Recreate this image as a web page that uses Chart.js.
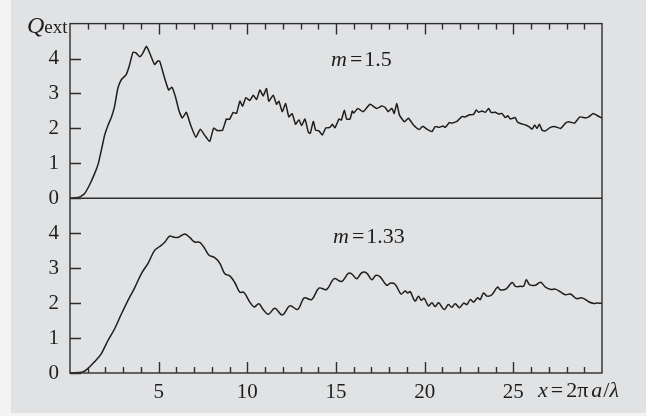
<!DOCTYPE html>
<html>
<head>
<meta charset="utf-8">
<script src="https://cdn.jsdelivr.net/npm/chart.js@4.4.1/dist/chart.umd.min.js"></script>
<style>
  html, body { margin: 0; padding: 0; background: #f3f3f3; }
  #wrap { position: absolute; left: 11px; top: 0; width: 635px; height: 413px; background: #e1e2e4; }
</style>
</head>
<body>
<div id="wrap"><canvas id="c" width="635" height="413"></canvas></div>
<script>
/* Mie extinction efficiency, two refractive indices */

var xTop = [0, 0.5, 0.8, 1.1, 1.4, 1.6, 1.8, 1.95, 2.15, 2.33, 2.5, 2.7, 2.9, 3.17, 3.35, 3.55, 3.72, 3.93, 4.1, 4.31,
  4.5, 4.77, 4.95, 5.06, 5.3, 5.56, 5.75, 5.95, 6.15, 6.34, 6.56, 6.8, 7.1, 7.35, 7.6, 7.88, 8.1, 8.3, 8.6, 8.82,
  9.0, 9.2, 9.39, 9.58, 9.73, 9.92, 10.14, 10.33, 10.52, 10.71, 10.89, 11.08, 11.21, 11.46, 11.65, 11.78, 11.97, 12.16, 12.34, 12.53,
  12.72, 12.91, 13.06, 13.25, 13.44, 13.55, 13.72, 13.85, 14.04, 14.23, 14.42, 14.66, 14.79, 14.94, 15.17, 15.3, 15.47, 15.6, 15.79, 15.92,
  16.0, 16.23, 16.54, 16.92, 17.3, 17.58, 17.77, 17.95, 18.15, 18.28, 18.43, 18.58, 18.86, 19.08, 19.37, 19.69, 19.9, 20.12, 20.41, 20.59,
  20.84, 21.03, 21.16, 21.4, 21.5, 21.82, 22.1, 22.29, 22.53, 22.76, 22.91, 23.04, 23.23, 23.42, 23.61, 23.74, 23.98, 24.17, 24.35, 24.55,
  24.69, 24.83, 25.11, 25.21, 25.4, 25.68, 25.86, 26.06, 26.2, 26.33, 26.47, 26.62, 26.81, 27.09, 27.37, 27.66, 27.94, 28.12, 28.45, 28.75,
  29.07, 29.25, 29.5, 29.73, 30];
var qTop = [0, 0.03, 0.12, 0.38, 0.72, 1.0, 1.45, 1.8, 2.1, 2.31, 2.6, 3.15, 3.4, 3.54, 3.8, 4.18, 4.16, 4.05, 4.15, 4.35,
  4.15, 3.83, 3.93, 3.92, 3.5, 3.1, 3.18, 2.9, 2.5, 2.3, 2.46, 2.1, 1.75, 1.98, 1.8, 1.63, 2.01, 1.94, 1.95, 2.27,
  2.26, 2.46, 2.43, 2.78, 2.64, 2.88, 2.8, 2.95, 2.83, 3.1, 2.93, 3.14, 2.78, 2.95, 2.69, 2.78, 2.48, 2.71, 2.33, 2.42,
  2.12, 2.25, 2.08, 2.27, 1.89, 1.86, 2.2, 1.95, 1.93, 1.81, 2.01, 2.03, 2.12, 2.02, 2.27, 2.24, 2.52, 2.27, 2.27, 2.5,
  2.44, 2.57, 2.48, 2.69, 2.57, 2.64, 2.6, 2.48, 2.58, 2.43, 2.71, 2.38, 2.19, 2.29, 2.1, 1.97, 2.06, 1.98, 1.91, 2.05,
  2.03, 2.07, 2.03, 2.17, 2.15, 2.2, 2.34, 2.33, 2.39, 2.4, 2.53, 2.46, 2.5, 2.46, 2.57, 2.46, 2.46, 2.41, 2.43, 2.31,
  2.36, 2.27, 2.31, 2.2, 2.14, 2.1, 2.06, 1.98, 2.1, 2.0, 2.12, 1.95, 1.93, 2.03, 2.05, 2.0, 2.15, 2.19, 2.15, 2.33,
  2.3, 2.33, 2.43, 2.37, 2.29];

var xBot = [0, 0.72, 1.01, 1.38, 1.76, 2.14, 2.51, 2.89, 3.27, 3.64, 4.02, 4.4, 4.77, 5.06, 5.34, 5.62, 5.81, 6.09, 6.47, 6.75,
  7.03, 7.32, 7.6, 7.84, 8.16, 8.45, 8.73, 9.01, 9.29, 9.58, 9.8, 10.14, 10.38, 10.65, 10.89, 11.18, 11.55, 11.97, 12.4, 12.84,
  13.21, 13.63, 14.04, 14.47, 14.9, 15.32, 15.69, 15.88, 16.17, 16.45, 16.73, 17.02, 17.24, 17.49, 17.86, 18.05, 18.33, 18.67, 18.9, 19.05,
  19.18, 19.46, 19.65, 19.8, 19.97, 20.21, 20.41, 20.6, 20.78, 21.1, 21.34, 21.53, 21.72, 21.97, 22.2, 22.38, 22.57, 22.76, 22.98, 23.13,
  23.32, 23.51, 23.79, 24.11, 24.26, 24.6, 24.93, 25.12, 25.4, 25.59, 25.73, 25.91, 26.24, 26.53, 26.81, 27.13, 27.37, 27.66, 27.94, 28.22,
  28.56, 28.88, 29.25, 29.54, 29.73, 30];
var qBot = [0, 0.03, 0.13, 0.32, 0.55, 0.93, 1.26, 1.68, 2.08, 2.43, 2.84, 3.14, 3.51, 3.62, 3.74, 3.92, 3.89, 3.88, 3.98, 3.88,
  3.75, 3.74, 3.56, 3.37, 3.3, 3.14, 2.84, 2.78, 2.59, 2.31, 2.31, 2.03, 1.89, 1.98, 1.82, 1.68, 1.85, 1.66, 1.92, 1.82,
  2.15, 2.1, 2.43, 2.39, 2.7, 2.62, 2.85, 2.84, 2.7, 2.87, 2.86, 2.67, 2.79, 2.75, 2.51, 2.57, 2.54, 2.26, 2.35, 2.29,
  2.33, 2.06, 2.2, 2.08, 2.14, 1.92, 2.01, 1.9, 2.01, 1.82, 1.96, 1.88, 1.98, 1.87, 2.0, 1.96, 2.1, 2.03, 2.15, 2.1,
  2.29, 2.2, 2.24, 2.46, 2.38, 2.41, 2.59, 2.48, 2.48, 2.49, 2.67, 2.53, 2.51, 2.6, 2.46, 2.39, 2.4, 2.32, 2.24, 2.26,
  2.13, 2.15, 2.04, 1.99, 2.0, 1.99];

var xTicks = [5, 10, 15, 20, 25];
var yTicks = [0, 1, 2, 3, 4];
var labelTop = '1.5';
var labelBot = '1.33';

var ink = '#1e1e1e';
var frame = '#2e2e2e';
var serif = '"Liberation Serif", "DejaVu Serif", serif';

function pts(xs, ys) {
  var out = [];
  for (var i = 0; i < xs.length; i++) out.push({ x: xs[i], y: ys[i] });
  return out;
}

function drawRuns(ctx, x, y, runs) {
  for (var i = 0; i < runs.length; i++) {
    ctx.font = runs[i][1];
    ctx.fillText(runs[i][0], x, y);
    x += ctx.measureText(runs[i][0]).width + (runs[i][2] || 0);
  }
}

var framePlugin = {
  id: 'frame',
  afterDraw: function (chart) {
    var ctx = chart.ctx, ca = chart.chartArea;
    var sx = chart.scales.x, yt = chart.scales.yTop, yb = chart.scales.yBot;
    ctx.save();
    ctx.strokeStyle = frame;
    ctx.lineWidth = 1.4;
    ctx.strokeRect(ca.left, ca.top, ca.right - ca.left, ca.bottom - ca.top);
    ctx.beginPath();
    ctx.moveTo(ca.left, yt.bottom);
    ctx.lineTo(ca.right, yt.bottom);
    // x ticks: inward on top and bottom edges
    for (var v = 1; v < 30; v++) {
      var len = v % 5 === 0 ? 11 : 6;
      var px = Math.round(sx.getPixelForValue(v)) + 0.5;
      ctx.moveTo(px, ca.top); ctx.lineTo(px, ca.top + len);
      ctx.moveTo(px, ca.bottom); ctx.lineTo(px, ca.bottom - len);
    }
    // y ticks: inward on left edge
    [yt, yb].forEach(function (s) {
      yTicks.forEach(function (t) {
        var py = Math.round(s.getPixelForValue(t)) + 0.5;
        ctx.moveTo(ca.left, py); ctx.lineTo(ca.left + 11, py);
      });
    });
    ctx.stroke();

    ctx.fillStyle = ink;
    ctx.textBaseline = 'alphabetic';
    ctx.textAlign = 'left';
    drawRuns(ctx, 16, 33, [['Q', 'italic 24px ' + serif, 0], ['ext', '19px ' + serif]]);
    drawRuns(ctx, 320, 66, [['m', 'italic 22px ' + serif, 3], ['=', '22px ' + serif, 2], [labelTop, '22px ' + serif]]);
    drawRuns(ctx, 322, 243, [['m', 'italic 22px ' + serif, 3], ['=', '22px ' + serif, 2], [labelBot, '22px ' + serif]]);
    drawRuns(ctx, 527, 397, [['x', 'italic 22px ' + serif, 3], ['=', '22px ' + serif, 3], ['2\u03c0', '22px ' + serif, 3],
      ['a', 'italic 22px ' + serif, 1], ['/', '22px ' + serif, 0], ['\u03bb', 'italic 22px ' + serif]]);
    ctx.restore();
  }
};

var tickFont = { family: serif, size: 21 };

var yScale = function () {
  return {
    type: 'linear', position: 'left', stack: 'panels', stackWeight: 1,
    min: 0, max: 5,
    grid: { display: false, drawTicks: false },
    border: { display: false },
    afterBuildTicks: function (s) { s.ticks = yTicks.map(function (v) { return { value: v }; }); },
    afterFit: function (s) { s.width = 59; },
    ticks: { color: ink, font: tickFont, padding: 11, autoSkip: false }
  };
};

new Chart(document.getElementById('c'), {
  type: 'line',
  data: {
    datasets: [
      { label: 'm = 1.5', data: pts(xTop, qTop), yAxisID: 'yTop', borderColor: ink, borderWidth: 1.5, pointRadius: 0, tension: 0.15, fill: false },
      { label: 'm = 1.33', data: pts(xBot, qBot), yAxisID: 'yBot', borderColor: ink, borderWidth: 1.5, pointRadius: 0, tension: 0.35, fill: false }
    ]
  },
  options: {
    responsive: false, animation: false,
    layout: { padding: { top: 18, right: 44, left: 0, bottom: 0 } },
    plugins: { legend: { display: false }, tooltip: { enabled: false } },
    scales: {
      x: {
        type: 'linear', position: 'bottom', min: 0, max: 30,
        grid: { display: false, drawTicks: false },
        border: { display: false },
        afterBuildTicks: function (s) { s.ticks = xTicks.map(function (v) { return { value: v }; }); },
        afterFit: function (s) { s.height = 40; },
        ticks: { color: ink, font: tickFont, padding: 7, autoSkip: false, maxRotation: 0 }
      },
      yBot: yScale(),
      yTop: yScale()
    }
  },
  plugins: [framePlugin]
});
</script>
</body>
</html>
